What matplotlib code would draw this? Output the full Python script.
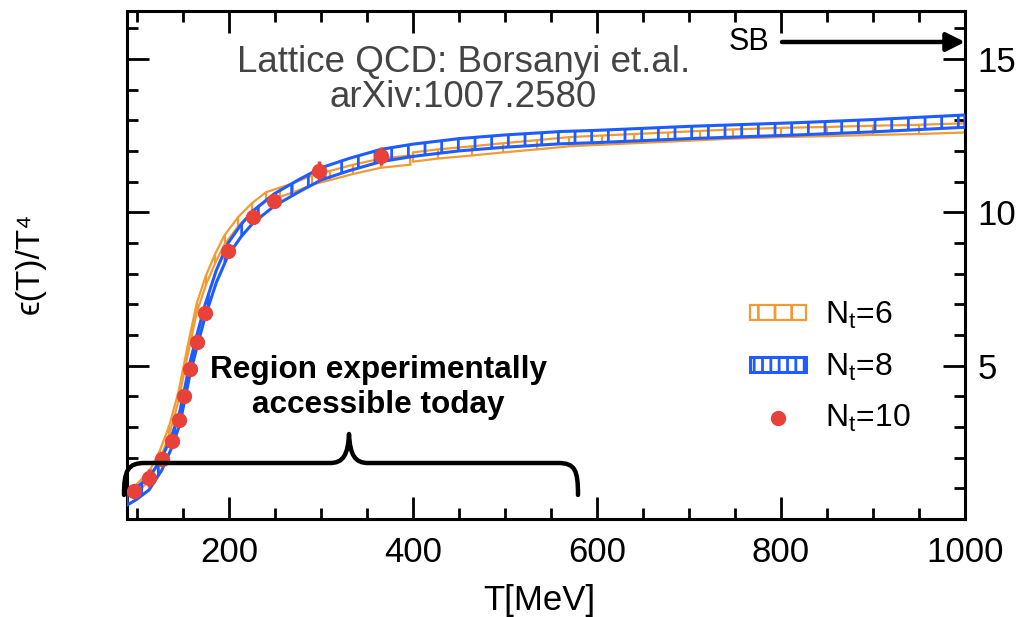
import numpy as np
import matplotlib
matplotlib.use("Agg")
from matplotlib import pyplot as plt
from matplotlib.path import Path
from matplotlib.patches import PathPatch, Patch
from matplotlib.lines import Line2D
from matplotlib.ticker import MultipleLocator, FixedLocator

plt.rcParams['font.family'] = ['Liberation Sans', 'DejaVu Sans']
plt.rcParams['mathtext.fontset'] = 'custom'
plt.rcParams['mathtext.rm'] = 'Liberation Sans'
plt.rcParams['hatch.linewidth'] = 2.0

# N_t = 6 (two runs, break near 400 MeV)
nt6_low_T = [95, 105, 115, 125, 135, 145, 155, 165, 175, 185, 195, 210, 225,
             240, 255, 270, 290, 310, 335, 365, 397]
nt6_low_eps = [0.85, 1.15, 1.5, 2.1, 2.9, 4.0, 5.5, 6.9, 7.8, 8.5, 9.1, 9.7,
               10.15, 10.5, 10.65, 10.8, 11.05, 11.2, 11.4, 11.6, 11.7]
nt6_high_T = [400, 427, 464, 498, 535, 570, 605, 640, 677, 712, 748, 800,
              850, 900, 950, 1000]
nt6_high_eps = [11.8, 11.9, 12.0, 12.1, 12.2, 12.3, 12.35, 12.4, 12.45, 12.5,
                12.55, 12.6, 12.63, 12.67, 12.7, 12.75]
nt6_err = 0.15

# N_t = 8 band
nt8_T = [89, 100, 113, 127, 138, 146, 151, 157, 165, 174, 186, 199, 213, 226,
         249, 275, 300, 330, 365, 400, 450, 500, 560, 600, 700, 818, 900, 1000]
nt8_eps = [0.65, 0.85, 1.15, 1.8, 2.55, 3.25, 3.95, 4.85, 5.8, 6.8, 7.9, 8.8,
           9.4, 9.85, 10.4, 10.85, 11.25, 11.55, 11.85, 12.02, 12.2, 12.32,
           12.43, 12.47, 12.6, 12.72, 12.82, 12.97]
nt8_err = 0.2

# N_t = 10 points
nt10_T = [97, 113, 127, 138, 146, 151, 157, 165, 174, 199, 226, 249, 298, 365]
nt10_eps = [0.92, 1.33, 1.96, 2.54, 3.24, 4.02, 4.89, 5.76, 6.73, 8.75, 9.84,
            10.36, 11.36, 11.83]
nt10_err = [0.1, 0.3, 0.1, 0.15, 0.15, 0.2, 0.15, 0.1, 0.1, 0.2, 0.2, 0.15,
            0.3, 0.3]

orange = '#f39a33'
blue = '#1f5cff'
red = '#e8413a'

W, H = 1031, 617


def fx(px):
    return px / W


def fy(py):
    return 1 - py / H


fig = plt.figure(figsize=(W / 100, H / 100), dpi=100)
ax = fig.add_axes([fx(127), fy(519), 838 / W, 508 / H])

# N_t=6: upper/lower lines with bars at data points
for T, e in [(nt6_low_T, nt6_low_eps), (nt6_high_T, nt6_high_eps)]:
    T = np.array(T)
    e = np.array(e)
    ax.plot(T, e + nt6_err, color=orange, lw=1.6, zorder=2)
    ax.plot(T, e - nt6_err, color=orange, lw=1.6, zorder=2)
    ax.vlines(T, e - nt6_err, e + nt6_err, color=orange, lw=1.6, zorder=2)

# N_t=8 hatched band
e8 = np.array(nt8_eps)
ax.fill_between(nt8_T, e8 - nt8_err, e8 + nt8_err, facecolor='none',
                edgecolor=blue, hatch='|', lw=2.2, zorder=3)

# N_t=10 points
ax.errorbar(nt10_T, nt10_eps, yerr=nt10_err, fmt='o', color=red, ms=10,
            elinewidth=2.5, capsize=0, zorder=4)

ax.set_xlim(89, 1000)
ax.set_ylim(0, 16.56)
ax.xaxis.set_major_locator(MultipleLocator(200))
ax.xaxis.set_minor_locator(MultipleLocator(50))
ax.yaxis.set_major_locator(FixedLocator([5, 10, 15]))
ax.yaxis.set_minor_locator(MultipleLocator(1))
ax.tick_params(which='both', direction='in', top=True, right=True,
               labelleft=False, labelright=True, width=2)
ax.tick_params(which='major', length=16)
ax.tick_params(which='minor', length=8)
ax.tick_params(axis='x', labelsize=25, pad=12)
ax.tick_params(axis='y', labelsize=25, pad=9)
for s in ax.spines.values():
    s.set_linewidth(2.2)

ax.set_xlabel('T[MeV]', fontsize=25)
ax.xaxis.set_label_coords((539 - 127) / 838, (519 - 584) / 508)
fig.text(fx(30), fy(263), 'ϵ(T)/T⁴', rotation=90, fontsize=24,
         ha='center', va='center')

# annotations
fig.text(fx(464), fy(72), 'Lattice QCD: Borsanyi et.al.', fontsize=26.5,
         color='#444444', ha='center', va='baseline')
fig.text(fx(463), fy(107), 'arXiv:1007.2580', fontsize=26.5,
         color='#444444', ha='center', va='baseline')
fig.text(fx(378), fy(378), 'Region experimentally', fontsize=22.7,
         weight='bold', ha='center', va='baseline')
fig.text(fx(378), fy(413), 'accessible today', fontsize=22.7,
         weight='bold', ha='center', va='baseline')

fig.text(fx(749), fy(42), 'SB', fontsize=22, ha='center', va='center')
ax.annotate('', xy=(965, H - 42), xytext=(782, H - 42),
            xycoords='figure pixels', textcoords='figure pixels',
            arrowprops=dict(arrowstyle='-|>', lw=3.2, color='k',
                            mutation_scale=28, shrinkA=0, shrinkB=0))

# curly brace
bp = [(124, 495), (124, 470), (128, 463), (145, 463), (330, 463),
      (343, 463), (348, 455), (349, 434), (350, 455), (355, 463), (368, 463),
      (558, 463), (575, 463), (578, 470), (578, 495)]
codes = [Path.MOVETO, Path.CURVE4, Path.CURVE4, Path.CURVE4, Path.LINETO,
         Path.CURVE4, Path.CURVE4, Path.CURVE4, Path.CURVE4, Path.CURVE4,
         Path.CURVE4, Path.LINETO, Path.CURVE4, Path.CURVE4, Path.CURVE4]
brace = Path([(fx(x), fy(y)) for x, y in bp], codes)
fig.patches.append(PathPatch(brace, transform=fig.transFigure, fill=False,
                             lw=3.2, capstyle='round', joinstyle='round',
                             edgecolor='k', figure=fig))

handles = [
    Patch(facecolor='none', edgecolor=orange, hatch='|', lw=1.6),
    Patch(facecolor='none', edgecolor=blue, hatch='||', lw=2.2),
    Line2D([], [], ls='none', marker='o', color=red, ms=10),
]
labels = [r'N$_\mathregular{t}$=6', r'N$_\mathregular{t}$=8',
          r'N$_\mathregular{t}$=10']
ax.legend(handles, labels, loc='upper left', bbox_to_anchor=(fx(750), fy(300)),
          bbox_transform=fig.transFigure, frameon=False, fontsize=23,
          handlelength=1.75, handleheight=0.35, handletextpad=0.6,
          labelspacing=0.63, borderpad=0, borderaxespad=0)

fig.savefig('out.png', dpi=100)
